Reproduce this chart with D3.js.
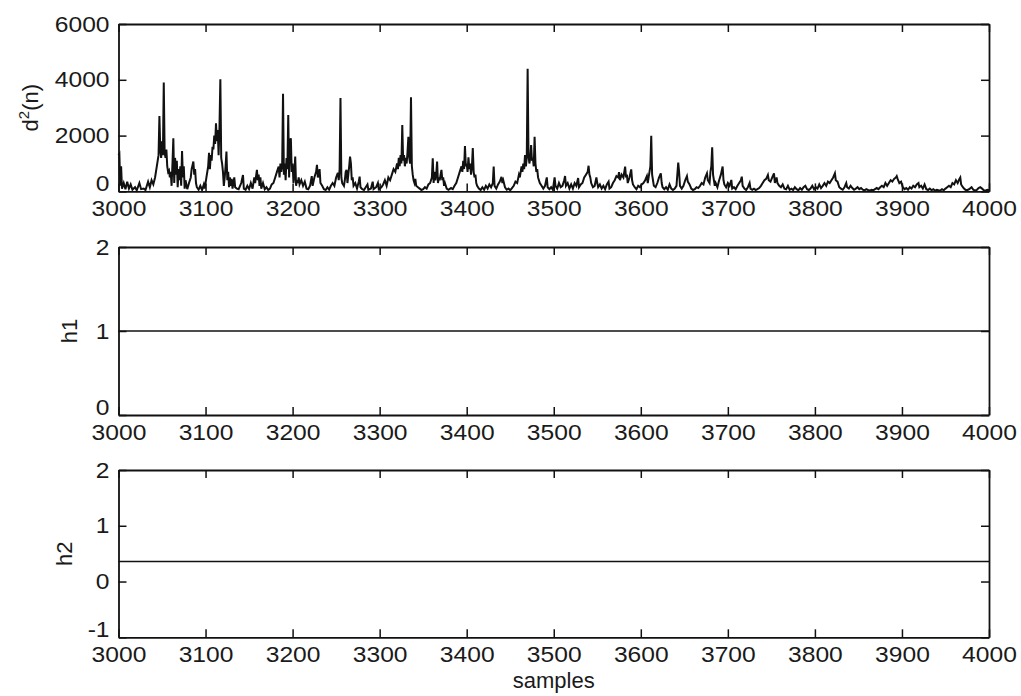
<!DOCTYPE html>
<html>
<head>
<meta charset="utf-8">
<script src="https://cdn.jsdelivr.net/npm/d3@7"></script>
<style>
  body { margin: 0; background: #fff; }
  svg text { font-family: "Liberation Sans", Arial, sans-serif; fill: #1a1a1a; }
</style>
</head>
<body>
<svg id="chart" width="1021" height="696"></svg>
<script>
// x axis: samples
const xTicks = [3000, 3100, 3200, 3300, 3400, 3500, 3600, 3700, 3800, 3900, 4000];

// y ticks per panel
const d2Ticks = [0, 2000, 4000, 6000];
const h1Ticks = [0, 1, 2];
const h2Ticks = [-1, 0, 1, 2];

// h1 / h2 are constant over the window
const h1Level = 1;
const h2Level = 0.36;

// d^2(n), [sample, value]
const d2Series = [
  [3000,1300],[3001,1350],[3002,200],[3003,900],[3004,100],[3006,300],[3008,80],[3010,350],[3012,100],[3014,250],
  [3016,60],[3019,150],[3021,40],[3024,300],[3026,80],[3029,100],[3031,50],[3034,350],[3036,150],[3038,400],[3040,250],
  [3042,500],[3044,900],[3046,1300],[3047,2700],[3048,1500],[3049,1200],[3050,1800],[3051,1300],[3052,3900],[3053,1400],
  [3054,1200],[3055,1500],[3056,900],[3057,700],[3058,750],[3059,500],[3060,700],[3061,200],[3062,1000],[3063,1900],
  [3064,300],[3065,1200],[3066,600],[3067,1100],[3068,150],[3069,800],[3070,400],[3071,900],[3072,200],[3073,1450],
  [3074,500],[3075,900],[3076,100],[3077,400],[3079,80],[3081,300],[3083,500],[3084,800],[3086,1070],[3087,600],
  [3088,800],[3089,300],[3090,150],[3092,60],[3094,200],[3096,50],[3098,250],[3099,100],
  [3101,500],[3103,900],[3104,1380],[3105,800],[3106,1300],[3107,1100],[3108,1600],[3109,1500],[3110,2000],[3111,1700],
  [3112,2440],[3113,1800],[3114,2200],[3115,1300],[3116,2300],[3117,4020],[3118,1200],[3119,1000],[3120,700],[3121,200],
  [3122,500],[3123,900],[3124,1425],[3125,400],[3126,700],[3127,150],[3128,500],[3129,200],[3130,450],[3131,100],
  [3133,500],[3134,150],[3136,100],[3138,80],
  [3141,300],[3143,590],[3144,100],[3146,60],[3148,200],[3150,80],[3152,300],[3154,100],[3156,500],[3157,300],
  [3159,770],[3160,400],[3161,600],[3162,200],[3163,500],[3164,100],[3166,300],[3168,80],[3170,150],[3172,50],
  [3174,100],[3176,250],[3178,300],[3180,500],
  [3182,700],[3184,890],[3185,500],[3186,1000],[3187,700],[3188,900],[3189,3500],[3190,600],[3191,1000],[3192,400],
  [3193,1200],[3194,800],[3195,2740],[3196,500],[3197,1800],[3198,1900],[3199,700],[3200,1000],[3201,300],[3202,600],
  [3203,1250],[3204,200],[3205,400],[3206,300],[3207,500],[3208,250],[3210,400],[3212,200],[3214,350],[3216,100],[3218,80],
  [3220,200],[3222,550],[3223,200],[3225,500],[3227,700],[3228,950],[3229,500],[3230,600],[3231,800],[3232,300],
  [3234,200],[3236,80],[3238,50],[3240,150],[3242,60],[3244,200],[3246,300],[3248,200],[3250,500],[3252,660],
  [3253,400],[3254,800],[3255,3350],[3256,500],[3257,300],
  [3259,200],[3260,400],[3261,700],[3262,770],[3263,300],[3264,600],[3265,900],[3266,1250],[3267,1000],[3268,400],
  [3269,500],[3270,200],[3272,300],[3274,100],[3276,350],[3277,530],[3278,150],[3280,80],[3282,50],[3284,150],
  [3286,250],[3287,60],[3290,100],[3292,350],[3293,80],[3296,150],[3298,300],[3299,80],[3302,150],[3304,250],
  [3306,400],[3308,200],[3310,500],[3312,400],[3314,600],
  [3316,800],[3318,700],[3320,1000],[3321,800],[3322,1200],[3323,900],[3324,1300],[3325,1000],[3326,2380],[3327,1100],
  [3328,1300],[3329,900],[3330,1200],[3331,1000],[3332,1400],[3333,1960],[3334,1200],[3335,1000],[3336,3370],[3337,900],
  [3338,600],[3339,400],[3340,300],[3341,450],[3342,200],[3344,150],[3346,100],[3348,50],[3350,80],
  [3352,150],[3354,100],[3356,250],[3358,300],[3360,500],[3361,1190],[3362,300],[3363,700],[3364,400],[3365,600],
  [3366,1070],[3367,300],[3368,500],[3369,400],[3370,600],[3371,770],[3372,400],[3373,500],[3374,200],[3375,300],
  [3377,100],[3379,60],[3382,120],[3384,80],[3386,200],[3388,300],[3390,500],
  [3392,700],[3394,900],[3395,700],[3396,1100],[3397,800],[3398,1630],[3399,900],[3400,1000],[3401,700],[3402,1220],
  [3403,800],[3404,1000],[3405,600],[3406,900],[3407,1550],[3408,700],[3409,500],[3410,600],[3411,300],[3412,200],
  [3414,100],[3416,50],
  [3418,150],[3420,60],[3422,200],[3424,100],[3426,250],[3428,150],[3430,300],[3431,890],[3432,200],[3434,100],
  [3436,250],[3438,350],[3440,520],[3441,300],[3442,400],[3444,150],[3446,60],[3448,100],[3450,40],[3452,120],
  [3454,200],[3456,350],[3458,300],[3460,600],
  [3461,500],[3462,700],[3463,900],[3464,700],[3465,1000],[3466,800],[3467,1300],[3468,900],[3469,1200],[3470,4400],
  [3471,1300],[3472,1000],[3473,1200],[3474,1660],[3475,1100],[3476,1200],[3477,900],[3478,1960],[3479,1000],[3480,700],
  [3481,800],[3482,500],[3483,400],[3484,300],[3486,200],[3488,100],[3490,200],[3492,500],[3493,150],[3495,80],
  [3497,150],[3499,60],
  [3501,500],[3502,200],[3504,100],[3506,300],[3508,150],[3510,200],[3512,400],[3513,550],[3514,200],[3516,300],
  [3518,100],[3520,250],[3522,100],[3524,300],[3526,200],[3528,480],[3529,150],[3531,250],[3533,300],[3535,500],
  [3537,600],[3539,700],[3540,920],[3541,600],[3542,500],[3543,300],[3545,150],[3547,200],[3549,500],[3550,300],
  [3551,150],[3553,250],[3555,100],[3557,200],[3559,80],[3561,250],[3563,350],[3564,100],
  [3566,150],[3568,300],[3570,400],[3572,550],[3574,500],[3575,690],[3576,400],[3578,600],[3580,500],[3582,890],
  [3583,500],[3584,600],[3585,300],[3587,500],[3589,790],[3590,400],[3591,250],[3593,150],[3595,80],[3597,200],
  [3599,150],[3601,250],[3603,300],[3605,400],[3607,550],[3608,300],[3609,500],[3610,700],[3611,900],[3612,1990],
  [3613,600],[3614,400],[3615,200],[3617,150],[3619,300],[3621,500],[3623,650],[3624,300],[3625,150],[3627,80],
  [3629,150],[3631,60],[3633,250],[3635,100],[3637,50],[3639,100],[3641,200],[3643,1030],[3644,700],[3645,200],
  [3647,100],[3649,200],[3651,400],[3653,550],[3654,350],[3656,250],[3658,100],[3660,50],[3662,80],[3664,150],
  [3666,120],[3668,200],[3670,300],[3672,250],[3674,500],[3676,650],[3677,400],[3679,300],[3680,700],[3681,900],
  [3682,1580],[3683,600],[3684,400],[3685,200],[3686,300],[3688,150],[3690,400],[3692,600],[3694,890],[3695,400],
  [3696,250],[3698,150],[3700,300],[3702,200],[3704,410],[3705,100],[3707,150],[3709,80],[3711,200],[3713,300],
  [3715,400],[3716,530],[3717,200],[3719,100],[3721,50],[3723,150],[3725,300],[3726,100],[3728,60],[3730,100],
  [3732,50],[3734,80],[3736,120],[3738,200],[3740,300],[3742,400],[3744,450],[3746,590],[3747,400],[3749,350],
  [3751,500],[3753,650],[3754,300],[3756,500],[3757,300],[3759,200],[3761,150],[3763,250],[3765,100],[3767,80],
  [3769,200],[3771,60],[3773,100],[3775,50],[3777,150],[3779,80],[3781,40],[3783,120],[3785,60],[3787,150],
  [3789,200],[3791,80],[3793,50],[3795,100],[3797,200],[3799,80],[3801,150],[3803,100],[3805,250],[3807,120],
  [3809,200],[3811,300],[3813,200],[3815,350],[3817,300],[3819,400],[3821,500],[3823,650],[3824,400],[3826,350],
  [3828,150],[3830,100],[3832,60],[3834,150],[3836,300],[3837,150],[3839,100],[3841,200],[3843,120],[3845,60],
  [3847,100],[3849,150],[3851,80],[3853,120],[3855,60],[3857,40],[3859,80],[3861,50],[3863,30],[3865,60],
  [3867,40],[3869,80],[3871,120],[3873,80],[3875,150],[3877,200],[3879,150],[3881,300],[3883,200],[3885,300],
  [3887,400],[3889,350],[3891,450],[3893,500],[3894,550],[3895,450],[3897,300],[3899,350],[3901,150],[3903,80],
  [3905,120],[3907,60],[3909,150],[3911,100],[3913,200],[3915,150],[3917,250],[3919,300],[3920,150],[3922,200],
  [3924,100],[3926,250],[3928,80],[3930,50],[3932,100],[3934,40],[3936,80],[3938,30],[3940,60],[3942,40],
  [3944,30],[3946,80],[3948,40],[3950,100],[3952,150],[3954,200],[3956,150],[3958,300],[3960,250],[3962,400],
  [3964,300],[3966,450],[3967,500],[3968,250],[3970,150],[3972,80],[3974,40],[3976,60],[3978,100],[3980,150],
  [3982,60],[3984,30],[3986,50],[3988,120],[3990,150],[3992,100],[3994,40],[3996,30],[3998,60],[4000,40]
];

const svg = d3.select('#chart');
const left = 118.5, right = 989;
const tickLen = 8;
const fontSize = 22;
const stretch = 'scale(1.12,1)'; // the scanned figure is a bit wide
const plain = d => String(d); // hyphen minus like the original, not U+2212

const x = d3.scaleLinear().domain([3000, 4000]).range([left, right]);

const panels = [
  { top: 24, bottom: 191.4, domain: [0, 6000], ticks: d2Ticks, data: d2Series, label: 'd2', labelX: 30 },
  { top: 247, bottom: 415, domain: [0, 2], ticks: h1Ticks, data: xTicks.map(s => [s, h1Level]), label: 'h1', labelX: 69 },
  { top: 470, bottom: 637.3, domain: [-1, 2], ticks: h2Ticks, data: xTicks.map(s => [s, h2Level]), label: 'h2', labelX: 64 },
];

function styleAxis(g) {
  g.attr('font-family', null).attr('font-size', null);
  g.select('.domain').attr('stroke', '#111').attr('stroke-width', 1.8);
  g.selectAll('.tick line').attr('stroke', '#111').attr('stroke-width', 1.5);
  g.selectAll('.tick text').style('font-size', fontSize + 'px').attr('transform', stretch);
}

panels.forEach((p) => {
  const y = d3.scaleLinear().domain(p.domain).range([p.bottom, p.top]);
  const g = svg.append('g');

  // data line
  const line = d3.line().x(d => x(d[0])).y(d => y(d[1]));
  g.append('path')
    .datum(p.data)
    .attr('d', line)
    .attr('fill', 'none')
    .attr('stroke', '#111')
    .attr('stroke-width', p.label === 'd2' ? 2 : 1.6)
    .attr('stroke-linejoin', 'miter');

  // bottom + left with labels, top + right mirrored ticks only
  g.append('g')
    .attr('transform', `translate(0,${p.bottom})`)
    .call(d3.axisBottom(x).tickValues(xTicks).tickSize(-tickLen).tickSizeOuter(0).tickPadding(9).tickFormat(plain))
    .call(styleAxis);
  g.append('g')
    .attr('transform', `translate(0,${p.top})`)
    .call(d3.axisTop(x).tickValues(xTicks).tickSize(-tickLen).tickSizeOuter(0).tickFormat(''))
    .call(styleAxis);
  const yAxis = g.append('g')
    .attr('transform', `translate(${left},0)`)
    .call(d3.axisLeft(y).tickValues(p.ticks).tickSize(-tickLen).tickSizeOuter(0).tickPadding(8).tickFormat(plain))
    .call(styleAxis);
  // lift the lowest label a little so it clears the x labels
  yAxis.selectAll('.tick text').filter(d => d === p.domain[0]).attr('y', -8);
  g.append('g')
    .attr('transform', `translate(${right},0)`)
    .call(d3.axisRight(y).tickValues(p.ticks).tickSize(-tickLen).tickSizeOuter(0).tickFormat(''))
    .call(styleAxis);

  // y label
  const cy = (p.top + p.bottom) / 2;
  const t = svg.append('text')
    .attr('transform', `translate(${p.labelX},${cy}) rotate(-90)`)
    .attr('text-anchor', 'middle')
    .attr('dy', '0.35em')
    .style('font-size', fontSize + 'px');
  if (p.label === 'd2') {
    t.append('tspan').text('d');
    t.append('tspan').text('2').style('font-size', '15px').attr('dy', '-0.55em');
    t.append('tspan').text('(n)').attr('dy', '0.4em');
  } else {
    t.text(p.label);
  }
});

svg.append('text')
  .attr('x', (left + right) / 2)
  .attr('y', 688)
  .attr('text-anchor', 'middle')
  .style('font-size', fontSize + 'px')
  .text('samples');
</script>
</body>
</html>
